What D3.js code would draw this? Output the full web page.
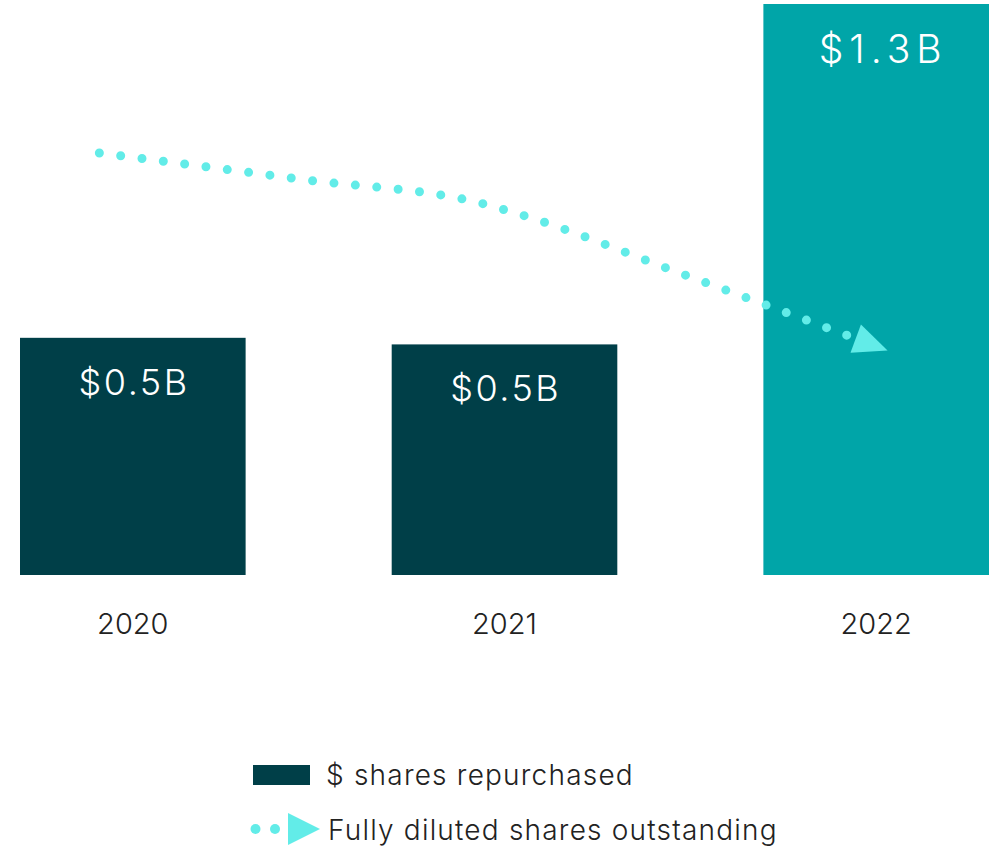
<!DOCTYPE html>
<html>
<head>
<meta charset="utf-8">
<script src="https://cdn.jsdelivr.net/npm/d3@7"></script>
<style>
  body { margin: 0; background: #fff; }
  svg text { font-family: Inter, "Noto Sans", sans-serif; }
</style>
</head>
<body>
<div id="chart"></div>
<script>
// DATA
const years = ["2020", "2021", "2022"];
const repurchased = [0.54, 0.525, 1.3];          // $B
const barLabels = ["$0.5B", "$0.5B", "$1.3B"];
// fully diluted shares outstanding (M), drawn as a trend arrow
const shareYears = [2019.91, 2020.45, 2020.948, 2021.042, 2021.473, 2021.955];
const shareValues = [175, 170.1, 165.4, 163.5, 152.5, 140];

const W = 997, H = 847;
const baseY = 575;

const svg = d3.select("#chart").append("svg")
  .attr("width", W).attr("height", H);

// scales
const x = d3.scaleBand().domain(years).range([20, 989]).paddingInner(0.393).paddingOuter(0);
const y = d3.scaleLinear().domain([0, 1.3]).range([baseY, 4]);
const xYear = d3.scaleLinear().domain([2020, 2022])
  .range([x("2020") + x.bandwidth() / 2, x("2022") + x.bandwidth() / 2]);
const yShares = d3.scaleLinear().domain([140, 175]).range([340, 153]);

const barColors = ["#003f48", "#003f48", "#00a5a8"];
const dotColor = "#62ece8";

// bars
svg.selectAll("rect.bar").data(years).join("rect")
  .attr("class", "bar")
  .attr("x", d => x(d))
  .attr("y", (d, i) => y(repurchased[i]))
  .attr("width", x.bandwidth())
  .attr("height", (d, i) => baseY - y(repurchased[i]))
  .attr("fill", (d, i) => barColors[i]);

// value labels (2022 one is more spaced out)
const spacing = [2.5, 2.5, 6];
svg.selectAll("text.val").data(years).join("text")
  .attr("class", "val")
  .attr("x", (d, i) => x(d) + x.bandwidth() / 2 + spacing[i] / 2 + (i === 2 ? 4 : 0))
  .attr("y", (d, i) => y(repurchased[i]) + (i === 2 ? 59 : 57))
  .attr("text-anchor", "middle")
  .attr("fill", "#fff")
  .style("font-size", (d, i) => i === 2 ? "39px" : "36px")
  .style("font-weight", 300)
  .style("letter-spacing", (d, i) => spacing[i] + "px")
  .text((d, i) => barLabels[i]);

// year axis labels
svg.selectAll("text.year").data(years).join("text")
  .attr("class", "year")
  .attr("x", d => x(d) + x.bandwidth() / 2)
  .attr("y", 634)
  .attr("text-anchor", "middle")
  .attr("fill", "#222")
  .style("font-size", "29px")
  .style("font-weight", 300)
  .text(d => d);

const pts = shareYears.map((t, i) => [xYear(t), yShares(shareValues[i])]);
const line = d3.line().curve(d3.curveMonotoneX);

svg.append("path")
  .attr("d", line(pts.slice(0, -1).concat([[pts[pts.length - 1][0] - 6, pts[pts.length - 1][1] - 2.3]])))
  .attr("fill", "none")
  .attr("stroke", dotColor)
  .attr("stroke-width", 9)
  .attr("stroke-linecap", "round")
  .attr("stroke-dasharray", "0 21.5");

// arrowhead at the end, oriented along the last segment
const last = pts[pts.length - 1], prev = pts[pts.length - 2];
const ang = Math.atan2(last[1] - prev[1], last[0] - prev[0]) * 180 / Math.PI;
svg.append("path")
  .attr("d", "M-4,-15 L30,0 L-4,15 Z")
  .attr("transform", `translate(${last[0]},${last[1]}) rotate(${ang})`)
  .attr("fill", dotColor);

// legend
const lg = svg.append("g");
lg.append("rect")
  .attr("x", 253).attr("y", 765).attr("width", 57).attr("height", 20)
  .attr("fill", barColors[0]);
lg.append("text")
  .attr("x", 326).attr("y", 785)
  .attr("fill", "#222").style("font-size", "28px").style("font-weight", 300)
  .style("letter-spacing", "1.2px")
  .text("$ shares repurchased");

lg.selectAll("circle").data([255.5, 275]).join("circle")
  .attr("cx", d => d).attr("cy", 829).attr("r", 5).attr("fill", dotColor);
lg.append("path")
  .attr("d", "M288,813 L320,829 L288,845 Z")
  .attr("fill", dotColor);
lg.append("text")
  .attr("x", 328).attr("y", 840)
  .attr("fill", "#222").style("font-size", "28px").style("font-weight", 300)
  .style("letter-spacing", "1.2px")
  .text("Fully diluted shares outstanding");
</script>
</body>
</html>
